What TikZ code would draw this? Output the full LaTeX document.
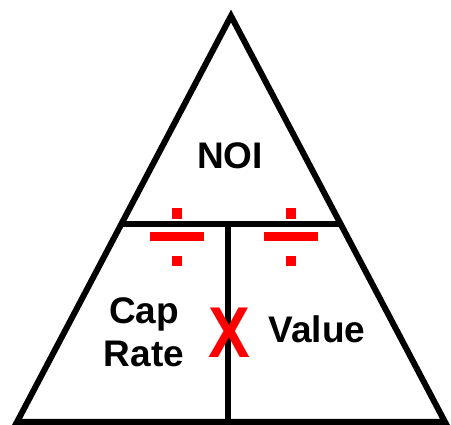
\documentclass[tikz,border=0pt]{standalone}
\usepackage{fontspec}
\setmainfont{Liberation Sans}
\usetikzlibrary{calc,intersections}
\definecolor{sred}{RGB}{255,0,0}
\tikzset{
  edge/.style={line width=6pt, line join=miter, draw=black},
  lbl/.style={font=\fontsize{37}{43}\selectfont\bfseries, inner sep=0pt, align=center},
  redbox/.style={fill=sred, draw=none}
}
\begin{document}
\begin{tikzpicture}[x=1pt,y=-1pt]
\useasboundingbox (0,0) rectangle (451,425);
\coordinate (A) at (231,16);
\coordinate (B) at (17,422);
\coordinate (C) at (445,422);
\draw[edge] (A) -- (B) -- (C) -- cycle;
\coordinate (HL) at ($(B)!{(422-224)/(422-16)}!(A)$);
\coordinate (HR) at ($(C)!{(422-224)/(422-16)}!(A)$);
\coordinate (VT) at (228,224);
\coordinate (VB) at (228,422);
\draw[edge] (HL) -- (HR);
\draw[edge] (VT) -- (VB);
% division signs
\foreach \cx/\nm in {177/l, 291/r}{
  \fill[redbox] (\cx-5,208) rectangle (\cx+5,219);
  \fill[redbox] (\cx-27,232) rectangle (\cx+27,241);
  \fill[redbox] (\cx-5,256) rectangle (\cx+5,266);
}
\node[lbl, anchor=base] (noi) at (230,169) {NOI};
\node[lbl, anchor=base] (cap) at (144,324) {Cap};
\node[lbl, anchor=base] (rate) at (144,367) {Rate};
\node[lbl, anchor=base] (value) at (317,343) {Value};
\node[inner sep=0pt, anchor=base, text=sred, xscale=0.87, font=\fontsize{72}{72}\selectfont\bfseries] (x) at (229,358) {X};
\end{tikzpicture}
\end{document}
